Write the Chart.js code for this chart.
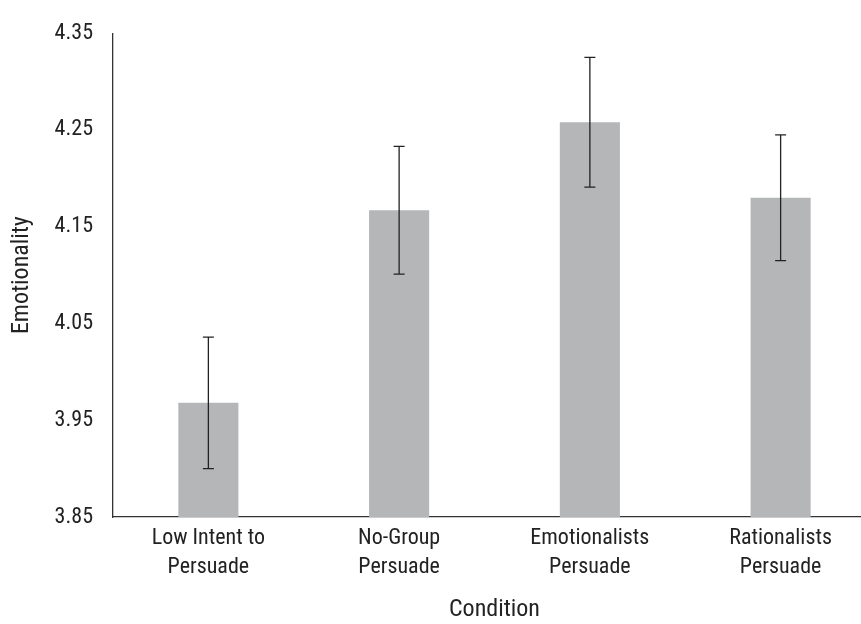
<!DOCTYPE html>
<html>
<head>
<meta charset="utf-8">
<script src="https://cdn.jsdelivr.net/npm/chart.js@4.4.1/dist/chart.umd.min.js"></script>
<style>
    html, body { margin: 0; padding: 0; background: #fff; overflow: hidden; }
    #wrap { width: 876px; height: 624px; }
</style>
</head>
<body>
<div id="wrap"><canvas id="chart" width="876" height="624"></canvas></div>
<script>
// Values
const conditions = [
    ['Low Intent to', 'Persuade'],
    ['No-Group', 'Persuade'],
    ['Emotionalists', 'Persuade'],
    ['Rationalists', 'Persuade']
];
const means = [3.968, 4.167, 4.258, 4.180];
const errors = [0.068, 0.066, 0.067, 0.065];
const yTicks = [3.85, 3.95, 4.05, 4.15, 4.25, 4.35];

const FONT = '"Roboto Condensed", "Liberation Sans", sans-serif';

// draws the error bars on top of the bars
const errorBars = {
    id: 'errorBars',
    afterDatasetsDraw(chart) {
        const ctx = chart.ctx;
        const y = chart.scales.y;
        const meta = chart.getDatasetMeta(0);
        ctx.save();
        ctx.strokeStyle = '#222';
        ctx.lineWidth = 1.3;
        meta.data.forEach((bar, i) => {
            const top = y.getPixelForValue(means[i] + errors[i]);
            const bottom = y.getPixelForValue(means[i] - errors[i]);
            const cap = 5.5;
            ctx.beginPath();
            ctx.moveTo(bar.x, top);
            ctx.lineTo(bar.x, bottom);
            ctx.moveTo(bar.x - cap, top);
            ctx.lineTo(bar.x + cap, top);
            ctx.moveTo(bar.x - cap, bottom);
            ctx.lineTo(bar.x + cap, bottom);
            ctx.stroke();
        });
        ctx.restore();
    }
};

new Chart(document.getElementById('chart').getContext('2d'), {
    type: 'bar',
    data: {
        labels: conditions,
        datasets: [{
            data: means,
            backgroundColor: '#b5b6b8',
            borderWidth: 0,
            categoryPercentage: 1,
            barPercentage: 0.315
        }]
    },
    options: {
        responsive: false,
        animation: false,
        layout: { padding: { top: 22, right: 0, bottom: 0, left: 0 } },
        plugins: {
            legend: { display: false },
            tooltip: { enabled: false }
        },
        scales: {
            x: {
                grid: { display: false, drawTicks: false },
                border: { display: true, color: '#333', width: 1.3 },
                ticks: {
                    color: '#222',
                    font: { family: FONT, size: 22, lineHeight: 1.32 },
                    padding: 7,
                    maxRotation: 0,
                    autoSkip: false
                },
                title: {
                    display: true,
                    text: 'Condition',
                    color: '#222',
                    font: { family: FONT, size: 24 },
                    padding: { top: 0, bottom: 0 }
                },
                afterFit(scale) { scale.height = 107; }
            },
            y: {
                min: 3.85,
                max: 4.35,
                grid: { display: false, drawTicks: false },
                border: { display: true, color: '#333', width: 1.3 },
                afterBuildTicks(scale) {
                    scale.ticks = yTicks.map(v => ({ value: v }));
                },
                ticks: {
                    color: '#222',
                    font: { family: FONT, size: 22 },
                    padding: 20,
                    callback: v => v.toFixed(2)
                },
                title: {
                    display: true,
                    text: 'Emotionality',
                    color: '#222',
                    font: { family: FONT, size: 24 },
                    padding: { top: 8, bottom: 0 }
                },
                afterFit(scale) { scale.width = 113; }
            }
        }
    },
    plugins: [errorBars]
});
</script>
</body>
</html>
